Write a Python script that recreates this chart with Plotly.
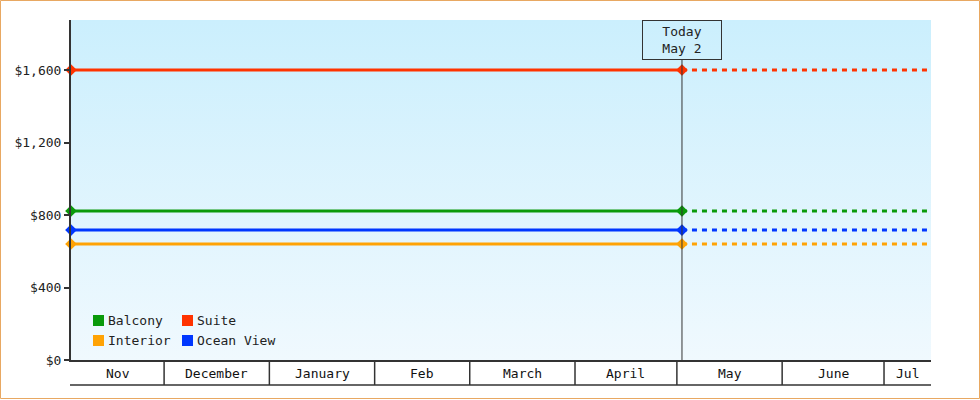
import pandas as pd
import plotly.graph_objects as go

# %% Data
series_names = ["Balcony", "Interior", "Suite", "Ocean View"]
series_prices = [822, 640, 1600, 717]
series_colors = ["#0a9a0a", "#ffa305", "#ff3300", "#0037ff"]

start_date = "2022-11-03 14:00"
today_date = "2023-05-02 12:00"
end_date = "2023-07-14 20:00"
today_label = "Today<br>May 2"

month_starts = ["2022-12-01", "2023-01-01", "2023-02-01", "2023-03-01",
                "2023-04-01", "2023-05-01", "2023-06-01", "2023-07-01"]
month_labels = ["Nov", "December", "January", "Feb", "March", "April", "May", "June", "Jul"]

y_ticks = [0, 400, 800, 1200, 1600]
y_tick_labels = ["$0", "$400", "$800", "$1,200", "$1,600"]
y_max = 1876

# legend layout: row-wise order as in the picture
legend_order = ["Balcony", "Suite", "Interior", "Ocean View"]

# %% Geometry helpers (pixels -> paper)
W, H = 980, 400
ML, MR, MT, MB = 71, 49, 20, 40
PW, PH = W - ML - MR, H - MT - MB


def px(x):
    return (x - ML) / PW


def py(y):
    return (H - MB - y) / PH


FONT = "DejaVu Sans Mono"
INK = "#333333"

fig = go.Figure()

# gradient background
fig.add_trace(go.Scatter(
    x=[start_date, end_date, end_date, start_date, start_date],
    y=[0, 0, y_max, y_max, 0],
    mode="lines", line=dict(width=0), fill="toself",
    fillgradient=dict(type="vertical", start=0, stop=y_max,
                      colorscale=[[0, "#f0f9fe"], [1, "#cbeffd"]]),
    hoverinfo="skip", showlegend=False,
))

for name, price, color in zip(series_names, series_prices, series_colors):
    fig.add_trace(go.Scatter(
        x=[start_date, today_date], y=[price, price],
        mode="lines+markers", name=name,
        line=dict(color=color, width=3),
        marker=dict(symbol="diamond", size=9, color=color),
        cliponaxis=False, showlegend=False,
    ))
    fig.add_trace(go.Scatter(
        x=[today_date, end_date], y=[price, price],
        mode="lines", name=name,
        line=dict(color=color, width=3, dash="5px,5px"),
        showlegend=False, hoverinfo="skip",
    ))

shapes = []
annotations = []

# month row below the axis
edges = [pd.Timestamp(start_date)] + [pd.Timestamp(m) for m in month_starts] + [pd.Timestamp(end_date)]
row_bottom = py(385)
for m in month_starts:
    shapes.append(dict(type="line", xref="x", yref="paper", x0=m, x1=m, y0=0, y1=row_bottom,
                       line=dict(color=INK, width=1.5)))
shapes.append(dict(type="line", xref="paper", yref="paper", x0=px(70), x1=1, y0=row_bottom, y1=row_bottom,
                   line=dict(color=INK, width=1.5)))
for a, b, label in zip(edges[:-1], edges[1:], month_labels):
    annotations.append(dict(x=a + (b - a) / 2, y=py(373), xref="x", yref="paper",
                            text=label, showarrow=False, yanchor="middle",
                            font=dict(family=FONT, size=13, color="#111")))

# today marker
shapes.append(dict(type="line", xref="x", yref="paper", x0=today_date, x1=today_date,
                   y0=0, y1=py(60), line=dict(color=INK, width=1)))
annotations.append(dict(x=today_date, y=1, xref="x", yref="paper", text=today_label,
                        showarrow=False, yanchor="top", width=76, height=36, borderpad=1,
                        bordercolor=INK, borderwidth=1,
                        font=dict(family=FONT, size=13, color="#222")))

# manual legend
col_x = [93, 182]
row_y = [320.5, 340.5]
for i, name in enumerate(legend_order):
    color = series_colors[series_names.index(name)]
    cx = col_x[i % 2]
    cy = row_y[i // 2]
    shapes.append(dict(type="rect", xref="paper", yref="paper",
                       x0=px(cx), x1=px(cx + 11), y0=py(cy - 5.5), y1=py(cy + 5.5),
                       fillcolor=color, line=dict(width=0)))
    annotations.append(dict(x=px(cx + 13), y=py(cy), xref="paper", yref="paper", text=name,
                            showarrow=False, xanchor="left", yanchor="middle",
                            font=dict(family=FONT, size=13, color="#222")))

# outer border
shapes.append(dict(type="rect", xref="paper", yref="paper",
                   x0=px(0.5), x1=px(W - 0.5), y0=py(H - 1.5), y1=py(0.5),
                   line=dict(color="#e8a862", width=1), fillcolor="rgba(0,0,0,0)"))

fig.update_layout(
    width=W, height=H,
    margin=dict(l=ML, r=MR, t=MT, b=MB),
    paper_bgcolor="white", plot_bgcolor="white",
    showlegend=False,
    shapes=shapes, annotations=annotations,
    font=dict(family=FONT, size=13, color="#222"),
    xaxis=dict(range=[start_date, end_date], showticklabels=False, showgrid=False,
               zeroline=False, showline=True, linecolor=INK, linewidth=1.5, ticks=""),
    yaxis=dict(range=[0, y_max], tickvals=y_ticks, ticktext=y_tick_labels,
               showgrid=False, zeroline=False, showline=True, linecolor=INK, linewidth=2,
               ticks="outside", ticklen=5, tickcolor=INK, tickwidth=2,
               tickfont=dict(family=FONT, size=13, color="#222")),
)

# body margin off so the figure sits at the window's top-left corner
fig.write_html("out.html", config={"displayModeBar": False},
               post_script="document.body.style.margin='0';")
